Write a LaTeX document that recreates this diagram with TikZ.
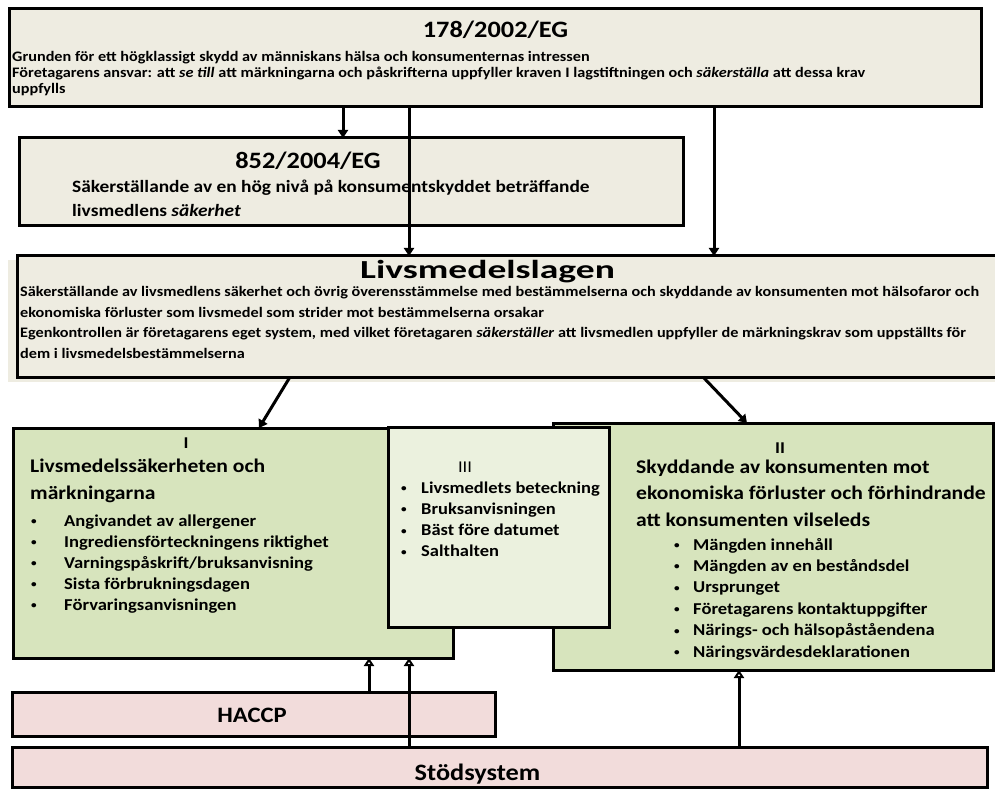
\documentclass[tikz,border=0pt]{standalone}
\usepackage{fontspec}
\setmainfont{Carlito}[FakeStretch=1.12]
\usetikzlibrary{arrows.meta}
\definecolor{beigec}{HTML}{EEECE1}
\definecolor{greenc}{HTML}{D7E4BD}
\definecolor{greenl}{HTML}{EBF1DE}
\definecolor{pinkc}{HTML}{F2DCDB}
\newcommand{\myfs}[1]{\fontsize{#1}{#1}\selectfont\bfseries}
\newcommand{\mybul}{{\fontsize{10}{10}\selectfont\raisebox{1.5pt}{•}}}
\tikzset{
  box/.style={draw=black, line width=3pt, inner sep=0pt, outer sep=0pt},
  txt/.style={inner sep=0pt, anchor=base west},
  ctxt/.style={inner sep=0pt, anchor=base},
  arr/.style={line width=3pt, -{Triangle[length=8pt,width=10pt]}},
  arro/.style={line width=3pt, -{Triangle[open,length=8pt,width=10pt,line width=2pt]}},
}
\begin{document}
\begin{tikzpicture}[x=1pt,y=-1pt]
\useasboundingbox (0,0) rectangle (995,791);
% ---------- 178/2002/EG
\node[box, fill=beigec, minimum width=972pt, minimum height=98pt] (b178) at (495,58) {};
\node[ctxt, font={\myfs{23.5}}] (t178) at (495.5,38) {178/2002/EG};
\node[txt, font={\myfs{14.5}}] (l178a) at (12,62) {Grunden för ett högklassigt skydd av människans hälsa och konsumenternas intressen};
\node[txt, font={\myfs{14.5}}] (l178b) at (12,78) {Företagarens ansvar: att \textit{se till} att märkningarna och påskrifterna uppfyller kraven I lagstiftningen och \textit{säkerställa} att dessa krav};
\node[txt, font={\myfs{14.5}}] (l178c) at (12,94) {uppfylls};
% ---------- 852/2004/EG
\node[box, fill=beigec, minimum width=664pt, minimum height=88pt] (b852) at (351,182) {};
\node[ctxt, font={\myfs{23.5}}] (t852) at (308,169) {852/2004/EG};
\node[txt, font={\myfs{17.3}}] (l852a) at (72,193) {Säkerställande av en hög nivå på konsumentskyddet beträffande};
\node[txt, font={\myfs{17.3}}] (l852b) at (72,216.5) {livsmedlens \textit{säkerhet}};
% ---------- Livsmedelslagen
\fill[beigec] (8,260) rectangle (995,382);
\node[box, fill=beigec, minimum width=986pt, minimum height=121pt] (lagen) at (510,316.5) {};
\node[ctxt, font={\myfs{26}}] (tlagen) at (487.5,279) {\scalebox{1.29}[1]{Livsmedelslagen}};
\node[txt, font={\myfs{14.5}}] (lla) at (20,296.5) {Säkerställande av livsmedlens säkerhet och övrig överensstämmelse med bestämmelserna och skyddande av konsumenten mot hälsofaror och};
\node[txt, font={\myfs{14.5}}] (llb) at (20,317) {ekonomiska förluster som livsmedel som strider mot bestämmelserna orsakar};
\node[txt, font={\myfs{14.5}}] (llc) at (20,337.5) {Egenkontrollen är företagarens eget system, med vilket företagaren \textit{säkerställer} att livsmedlen uppfyller de märkningskrav som uppställts för};
\node[txt, font={\myfs{14.5}}] (lld) at (20,358) {dem i livsmedelsbestämmelserna};
% ---------- Box II
\node[box, fill=greenc, minimum width=440pt, minimum height=247pt] (bII) at (773,546.5) {};
\node[ctxt, font={\myfs{16.5}}] (tII) at (780,453) {II};
\node[txt, font={\myfs{19.3}}] (hIIa) at (636,473) {Skyddande av konsumenten mot};
\node[txt, font={\myfs{19.3}}] (hIIb) at (636,499.5) {ekonomiska förluster och förhindrande};
\node[txt, font={\myfs{19.3}}] (hIIc) at (636,526) {att konsumenten vilseleds};
\foreach \t [count=\i] in {Mängden innehåll, Mängden av en beståndsdel, Ursprunget, Företagarens kontaktuppgifter, Närings- och hälsopåståendena, Näringsvärdesdeklarationen}
  \node[txt, font={\myfs{16.6}}] (iII\i) at (674,{550+21.4*(\i-1)}) {\makebox[19pt][l]{\mybul}\t};
% ---------- Box I
\node[box, fill=greenc, minimum width=440pt, minimum height=230pt] (bI) at (233,543) {};
\node[ctxt, font={\myfs{16.5}}] (tI) at (186,448) {I};
\node[txt, font={\myfs{19.3}}] (hIa) at (30,472) {Livsmedelssäkerheten och};
\node[txt, font={\myfs{19.3}}] (hIb) at (30,499) {märkningarna};
\foreach \t [count=\i] in {Angivandet av allergener, Ingrediensförteckningens riktighet, Varningspåskrift/bruksanvisning, Sista förbrukningsdagen, Förvaringsanvisningen}
  \node[txt, font={\myfs{16.6}}] (iI\i) at (31,{526+21*(\i-1)}) {\makebox[33pt][l]{\mybul}\t};
% ---------- Box III
\node[box, fill=greenl, minimum width=221pt, minimum height=200pt] (bIII) at (498.5,527) {};
\node[ctxt, font={\fontsize{16.5}{16.5}\selectfont}] (tIII) at (465,472) {III};
\foreach \t [count=\i] in {Livsmedlets beteckning, Bruksanvisningen, Bäst före datumet, Salthalten}
  \node[txt, font={\myfs{16.5}}] (iIII\i) at (401,{493+21.3*(\i-1)}) {\makebox[20pt][l]{\mybul}\t};
% ---------- HACCP and Stödsystem
\node[box, fill=pinkc, minimum width=483pt, minimum height=44pt] (haccp) at (253.5,714) {};
\node[ctxt, font={\myfs{22}}] (thaccp) at (252,722) {HACCP};
\node[box, fill=pinkc, minimum width=975pt, minimum height=40pt] (stod) at (499.5,767) {};
\node[ctxt, font={\myfs{23.5}}] (tstod) at (477.5,780) {Stödsystem};
% ---------- connectors
\draw[arr] (b178.south -| 343,0) -- (b852.north -| 343,0);
\draw[arr] (b178.south -| 409,0) -- (lagen.north -| 409,0);
\draw[arr] (b178.south -| 714,0) -- (lagen.north -| 714,0);
\draw[arr] (lagen.south -| 290,0) -- (bI.north -| 259,0);
\draw[arr] (lagen.south -| 703,0) -- (bII.north -| 747,0);
\draw[arro] (haccp.north -| 369,0) -- (bI.south -| 369,0);
\draw[arro] (stod.north -| 409,0) -- (bI.south -| 409,0);
\draw[arro] (stod.north -| 739,0) -- (bII.south -| 739,0);
\end{tikzpicture}
\end{document}
